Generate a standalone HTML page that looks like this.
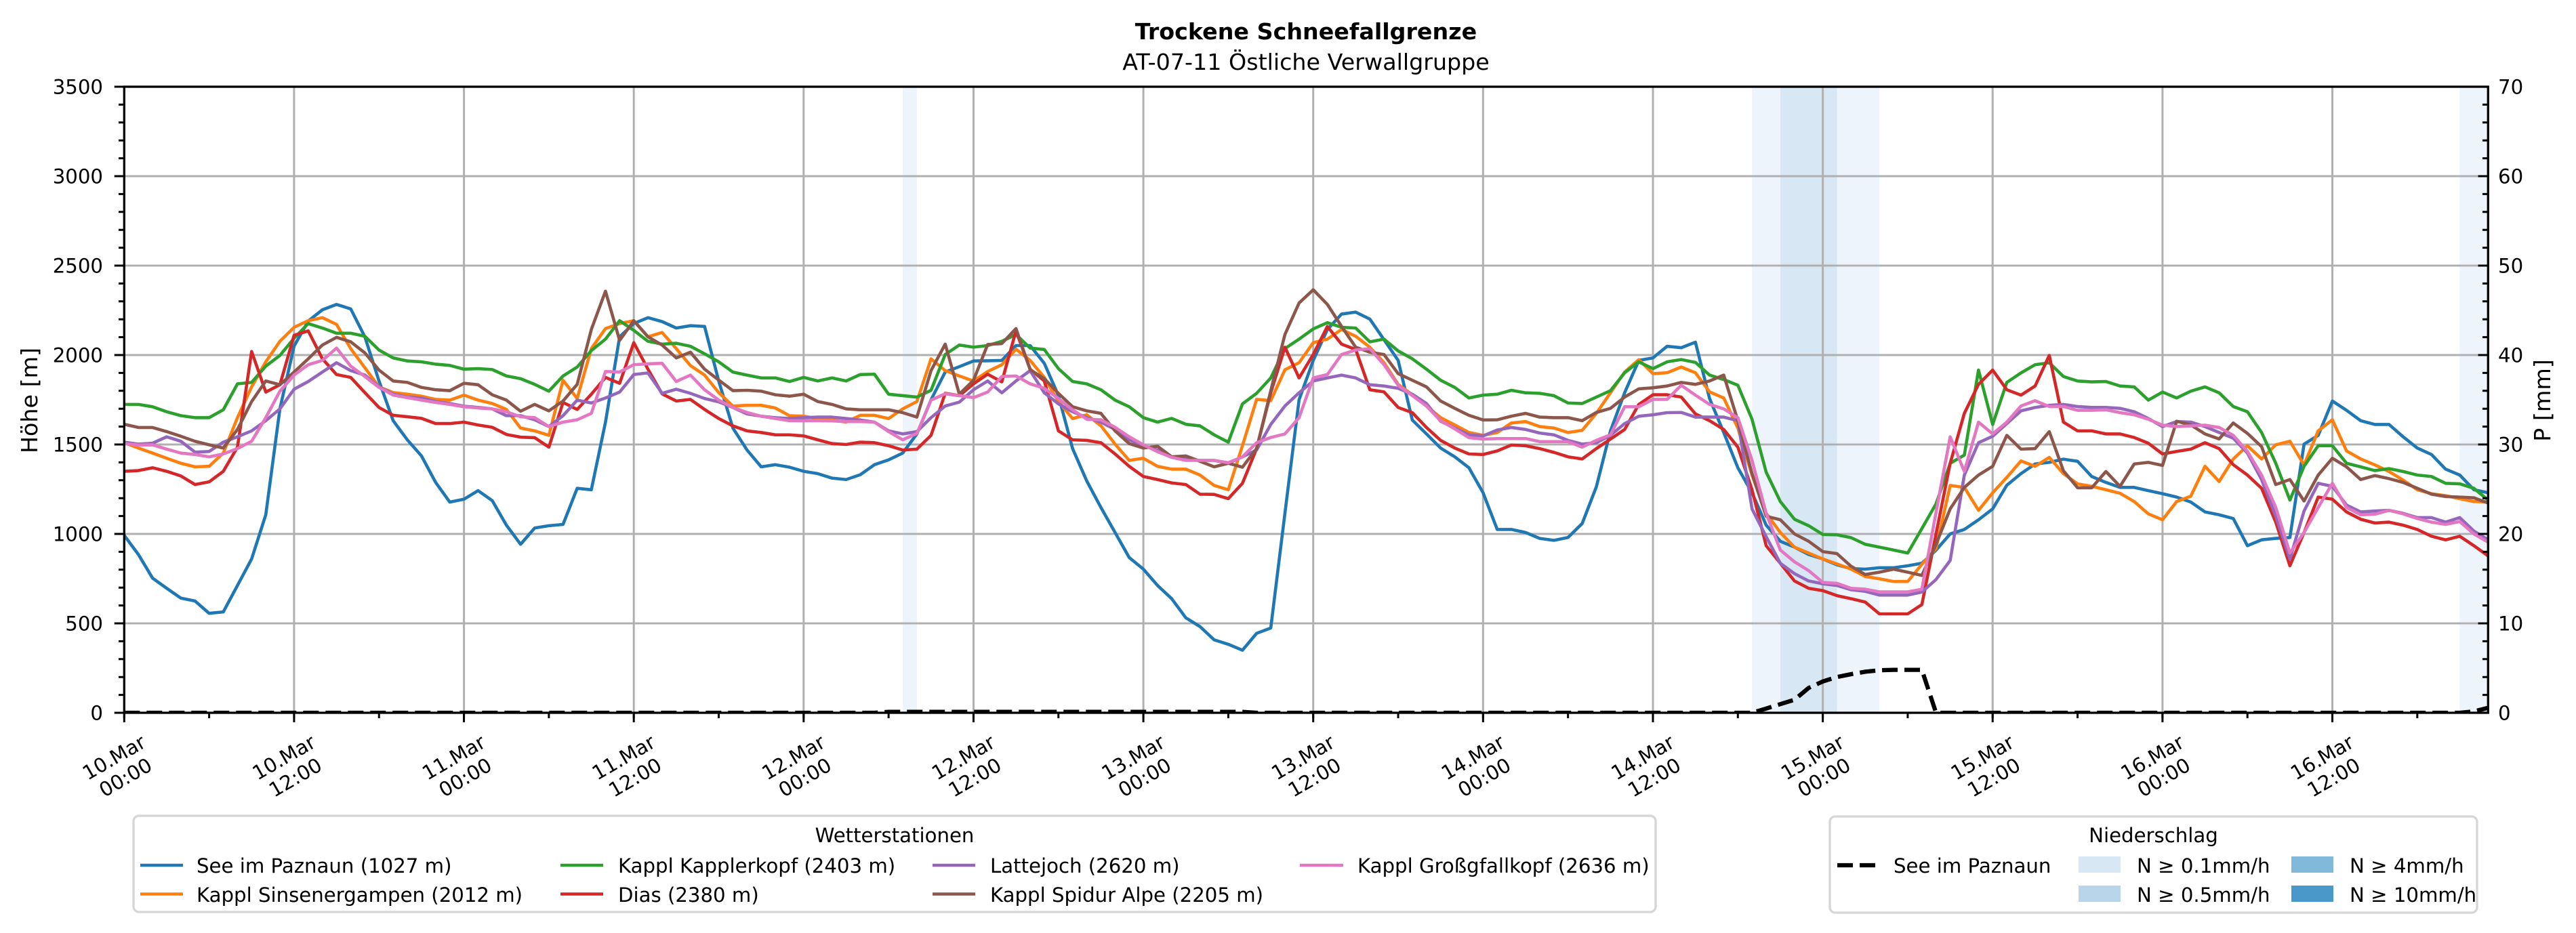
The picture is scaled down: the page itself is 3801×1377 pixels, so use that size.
<!DOCTYPE html>
<html><head><meta charset="utf-8"><style>
html,body{margin:0;padding:0;background:#fff;}
svg{display:block;}
text{font-family:"DejaVu Sans","Liberation Sans",sans-serif;fill:#000;}
</style></head><body>
<svg width="3801" height="1377" viewBox="0 0 3801 1377" xmlns="http://www.w3.org/2000/svg">
<defs><clipPath id="pc"><rect x="183.3" y="128" width="3488" height="924"/></clipPath></defs>
<rect x="0" y="0" width="3801" height="1377" fill="#fff"/>
<text x="1927" y="58" text-anchor="middle" font-size="33.3" font-weight="bold">Trockene Schneefallgrenze</text>
<text x="1927" y="103" text-anchor="middle" font-size="33.3">AT-07-11 Östliche Verwallgruppe</text>
<rect x="1332" y="128" width="20.9" height="924" fill="#eef4fb"/>
<rect x="2585.2" y="128" width="188" height="924" fill="#eef4fb"/>
<rect x="2627" y="128" width="83.5" height="924" fill="#d8e7f4"/>
<rect x="3629.5" y="128" width="41.8" height="924" fill="#eef4fb"/>
<g stroke="#b0b0b0" stroke-width="3" fill="none">
<path d="M183.3,920H3671.3M183.3,788H3671.3M183.3,656H3671.3M183.3,524H3671.3M183.3,392H3671.3M183.3,260H3671.3"/>
<path d="M433.9,128V1052M684.6,128V1052M935.2,128V1052M1185.8,128V1052M1436.5,128V1052M1687.1,128V1052M1937.7,128V1052M2188.3,128V1052M2439,128V1052M2689.6,128V1052M2940.2,128V1052M3190.9,128V1052M3441.5,128V1052"/>
</g>
<g clip-path="url(#pc)">
<g transform="translate(183.3,1052) scale(20.886,-0.264)" fill="none" stroke-width="4.6" stroke-linejoin="round" stroke-linecap="round">
<polyline vector-effect="non-scaling-stroke" stroke="#1f77b4" points="0,992 1,885 2,753 3,696 4,641 5,625 6,556 7,564 8,712 9,860 10,1107 11,1700 12,2050 13,2190 14,2253 15,2283 16,2258 17,2102 18,1855 19,1633 20,1526 21,1436 22,1288 23,1178 24,1194 25,1242 26,1186 27,1049 28,942 29,1033 30,1046 31,1053 32,1255 33,1247 34,1625 35,2102 36,2176 37,2209 38,2187 39,2151 40,2164 41,2160 42,1855 43,1592 44,1469 45,1375 46,1387 47,1373 48,1350 49,1337 50,1312 51,1304 52,1331 53,1387 54,1414 55,1452 56,1559 57,1750 58,1905 59,1935 60,1967 61,1968 62,1970 63,2053 64,2053 65,1954 66,1773 67,1477 68,1296 69,1148 70,1008 71,868 72,803 73,712 74,638 75,531 76,482 77,408 78,383 79,350 80,444 81,474 82,1115 83,1750 84,1970 85,2143 86,2229 87,2240 88,2201 89,2086 90,1970 91,1637 92,1559 93,1480 94,1431 95,1370 96,1230 97,1025 98,1025 99,1008 100,975 101,964 102,980 103,1058 104,1263 105,1576 106,1789 107,1970 108,1984 109,2049 110,2041 111,2072 112,1757 113,1567 114,1370 115,1230 116,1049 117,959 118,926 119,885 120,860 121,827 122,806 123,803 124,811 125,811 126,822 127,836 128,909 129,1000 130,1025 131,1079 132,1140 133,1272 134,1337 135,1391 136,1400 137,1418 138,1406 139,1321 140,1288 141,1260 142,1260 143,1242 144,1225 145,1206 146,1178 147,1123 148,1107 149,1086 150,934 151,967 152,975 153,980 154,1502 155,1551 156,1743 157,1691 158,1633 159,1612 160,1612 161,1543 162,1480 163,1444 164,1362 165,1329 166,1247 167,1230"/>
<polyline vector-effect="non-scaling-stroke" stroke="#ff7f0e" points="0,1510 1,1480 2,1452 3,1423 4,1395 5,1375 6,1378 7,1452 8,1650 9,1822 10,1962 11,2077 12,2155 13,2192 14,2209 15,2171 16,2036 17,1929 18,1822 19,1790 20,1781 21,1770 22,1752 23,1748 24,1776 25,1748 26,1729 27,1696 28,1592 29,1576 30,1551 31,1859 32,1757 33,2036 34,2148 35,2176 36,2192 37,2102 38,2126 39,2036 40,1941 41,1888 42,1790 43,1715 44,1719 45,1719 46,1704 47,1661 48,1658 49,1645 50,1637 51,1625 52,1663 53,1663 54,1645 55,1699 56,1740 57,1979 58,1913 59,1883 60,1855 61,1908 62,1946 63,2033 64,1970 65,1875 66,1740 67,1645 68,1666 69,1605 70,1502 71,1411 72,1423 73,1378 74,1362 75,1362 76,1329 77,1271 78,1247 79,1493 80,1752 81,1745 82,1918 83,1957 84,2069 85,2089 86,2143 87,2105 88,2044 89,1957 90,1836 91,1778 92,1715 93,1650 94,1609 95,1567 96,1551 97,1567 98,1620 99,1628 100,1600 101,1592 102,1567 103,1579 104,1674 105,1789 106,1905 107,1974 108,1896 109,1901 110,1933 111,1901 112,1794 113,1760 114,1592 115,1329 116,1115 117,1008 118,926 119,893 120,860 121,832 122,803 123,762 124,749 125,734 126,734 127,830 128,918 129,1271 130,1260 131,1132 132,1230 133,1316 134,1408 135,1378 136,1428 137,1337 138,1280 139,1266 140,1247 141,1227 142,1181 143,1112 144,1079 145,1181 146,1211 147,1378 148,1293 149,1419 150,1493 151,1419 152,1498 153,1518 154,1386 155,1576 156,1638 157,1464 158,1419 159,1386 160,1349 161,1301 162,1247 163,1225 164,1214 165,1197 166,1181 167,1178"/>
<polyline vector-effect="non-scaling-stroke" stroke="#2ca02c" points="0,1724 1,1724 2,1711 3,1683 4,1661 5,1650 6,1650 7,1694 8,1839 9,1847 10,1938 11,1998 12,2094 13,2176 14,2151 15,2122 16,2122 17,2105 18,2028 19,1984 20,1967 21,1962 22,1949 23,1942 24,1921 25,1924 26,1919 27,1883 28,1868 29,1836 30,1798 31,1883 32,1933 33,2025 34,2089 35,2192 36,2138 37,2077 38,2061 39,2066 40,2049 41,2007 42,1962 43,1905 44,1888 45,1872 46,1872 47,1852 48,1875 49,1855 50,1872 51,1855 52,1891 53,1893 54,1781 55,1773 56,1765 57,1803 58,2003 59,2056 60,2044 61,2053 62,2077 63,2115 64,2039 65,2031 66,1924 67,1852 68,1839 69,1806 70,1748 71,1711 72,1650 73,1625 74,1646 75,1613 76,1604 77,1554 78,1513 79,1727 80,1786 81,1872 82,2036 83,2089 84,2146 85,2181 86,2155 87,2151 88,2074 89,2089 90,2023 91,1979 92,1921 93,1859 94,1819 95,1760 96,1776 97,1781 98,1803 99,1789 100,1786 101,1773 102,1732 103,1729 104,1765 105,1801 106,1901 107,1962 108,1924 109,1962 110,1975 111,1959 112,1888 113,1863 114,1831 115,1641 116,1345 117,1181 118,1082 119,1046 120,997 121,995 122,979 123,942 124,926 125,910 126,893 127,1030 128,1168 129,1395 130,1441 131,1916 132,1612 133,1847 134,1900 135,1946 136,1957 137,1880 138,1855 139,1850 140,1852 141,1827 142,1822 143,1748 144,1793 145,1760 146,1798 147,1822 148,1789 149,1712 150,1683 151,1567 152,1395 153,1189 154,1378 155,1493 156,1493 157,1395 158,1375 159,1354 160,1365 161,1349 162,1329 163,1321 164,1283 165,1280 166,1255 167,1189"/>
<polyline vector-effect="non-scaling-stroke" stroke="#d62728" points="0,1350 1,1354 2,1370 3,1350 4,1324 5,1276 6,1291 7,1350 8,1485 9,2020 10,1793 11,1834 12,2110 13,2135 14,1979 15,1891 16,1875 17,1790 18,1707 19,1663 20,1655 21,1646 22,1617 23,1617 24,1625 25,1609 26,1596 27,1556 28,1541 29,1538 30,1485 31,1735 32,1696 33,1781 34,1875 35,1842 36,2069 37,1921 38,1783 39,1743 40,1752 41,1696 42,1645 43,1604 44,1576 45,1567 46,1554 47,1554 48,1548 49,1526 50,1505 51,1500 52,1513 53,1510 54,1493 55,1469 56,1474 57,1551 58,1786 59,1773 60,1839 61,1893 62,1850 63,2135 64,1921 65,1855 66,1576 67,1526 68,1523 69,1510 70,1447 71,1378 72,1321 73,1304 74,1285 75,1276 76,1222 77,1221 78,1197 79,1283 80,1477 81,1790 82,2044 83,1872 84,2003 85,2160 86,2061 87,2031 88,1806 89,1794 90,1707 91,1678 92,1595 93,1523 94,1480 95,1447 96,1444 97,1464 98,1497 99,1493 100,1477 101,1456 102,1431 103,1419 104,1477 105,1530 106,1584 107,1724 108,1778 109,1778 110,1765 111,1671 112,1633 113,1584 114,1485 115,1247 116,934 117,836 118,737 119,696 120,683 121,655 122,638 123,619 124,553 125,553 126,553 127,605 128,1000 129,1395 130,1674 131,1836 132,1916 133,1806 134,1776 135,1827 136,1998 137,1625 138,1576 139,1576 140,1559 141,1559 142,1539 143,1507 144,1447 145,1461 146,1474 147,1510 148,1477 149,1387 150,1329 151,1255 152,1066 153,822 154,1008 155,1206 156,1194 157,1123 158,1082 159,1061 160,1066 161,1049 162,1025 163,987 164,967 165,987 166,934 167,877"/>
<polyline vector-effect="non-scaling-stroke" stroke="#9467bd" points="0,1513 1,1502 2,1507 3,1543 4,1518 5,1457 6,1461 7,1513 8,1543 9,1576 10,1633 11,1699 12,1809 13,1852 14,1905 15,1957 16,1913 17,1888 18,1822 19,1781 20,1765 21,1760 22,1740 23,1729 24,1714 25,1707 26,1699 27,1661 28,1661 29,1638 30,1600 31,1661 32,1748 33,1732 34,1760 35,1793 36,1891 37,1900 38,1786 39,1809 40,1786 41,1757 42,1738 43,1707 44,1671 45,1658 46,1650 47,1645 48,1650 49,1653 50,1653 51,1645 52,1637 53,1625 54,1576 55,1559 56,1572 57,1650 58,1715 59,1737 60,1806 61,1855 62,1789 63,1855 64,1913 65,1789 66,1727 67,1683 68,1650 69,1625 70,1584 71,1526 72,1493 73,1469 74,1431 75,1418 76,1411 77,1411 78,1395 79,1431 80,1469 81,1612 82,1715 83,1789 84,1855 85,1872 86,1888 87,1872 88,1834 89,1827 90,1814 91,1781 92,1729 93,1630 94,1592 95,1554 96,1548 97,1581 98,1595 99,1584 100,1564 101,1554 102,1523 103,1502 104,1510 105,1551 106,1617 107,1658 108,1666 109,1678 110,1679 111,1653 112,1653 113,1653 114,1633 115,1140 116,984 117,836 118,778 119,737 120,721 121,712 122,688 123,679 124,658 125,658 126,658 127,675 128,745 129,852 130,1329 131,1510 132,1546 133,1617 134,1688 135,1707 136,1719 137,1724 138,1712 139,1707 140,1707 141,1702 142,1683 143,1645 144,1600 145,1628 146,1625 147,1600 148,1567 149,1535 150,1452 151,1304 152,1099 153,860 154,1128 155,1283 156,1266 157,1161 158,1123 159,1128 160,1132 161,1115 162,1091 163,1091 164,1066 165,1091 166,1016 167,967"/>
<polyline vector-effect="non-scaling-stroke" stroke="#8c564b" points="0,1613 1,1595 2,1595 3,1572 4,1546 5,1518 6,1498 7,1480 8,1584 9,1740 10,1855 11,1834 12,1905 13,1979 14,2056 15,2099 16,2074 17,2012 18,1916 19,1855 20,1847 21,1819 22,1806 23,1801 24,1842 25,1834 26,1778 27,1748 28,1686 29,1724 30,1688 31,1743 32,1836 33,2143 34,2357 35,2082 36,2192 37,2102 38,2056 39,1984 40,2016 41,1921 42,1860 43,1801 44,1803 45,1798 46,1778 47,1770 48,1781 49,1740 50,1724 51,1699 52,1694 53,1694 54,1694 55,1678 56,1653 57,1913 58,2061 59,1781 60,1859 61,2059 62,2064 63,2148 64,1918 65,1868 66,1786 67,1711 68,1688 69,1674 70,1576 71,1505 72,1480 73,1490 74,1431 75,1436 76,1406 77,1375 78,1395 79,1373 80,1477 81,1800 82,2115 83,2291 84,2365 85,2283 86,2160 87,2044 88,2016 89,2003 90,1896 91,1859 92,1822 93,1743 94,1702 95,1663 96,1637 97,1638 98,1658 99,1674 100,1653 101,1650 102,1650 103,1633 104,1679 105,1702 106,1765 107,1811 108,1817 109,1827 110,1847 111,1836 112,1855 113,1888 114,1633 115,1337 116,1099 117,1079 118,1000 119,959 120,901 121,890 122,819 123,773 124,786 125,803 126,786 127,768 128,942 129,1140 130,1260 131,1329 132,1378 133,1551 134,1474 135,1477 136,1572 137,1353 138,1258 139,1258 140,1349 141,1266 142,1391 143,1400 144,1383 145,1630 146,1609 147,1559 148,1531 149,1620 150,1562 151,1488 152,1276 153,1304 154,1184 155,1329 156,1423 157,1375 158,1304 159,1326 160,1309 161,1288 162,1255 163,1222 164,1209 165,1206 166,1202 167,1173"/>
<polyline vector-effect="non-scaling-stroke" stroke="#e377c2" points="0,1505 1,1497 2,1498 3,1474 4,1452 5,1444 6,1431 7,1447 8,1477 9,1518 10,1650 11,1798 12,1888 13,1946 14,1970 15,2039 16,1938 17,1880 18,1819 19,1776 20,1762 21,1748 22,1735 23,1724 24,1711 25,1704 26,1699 27,1683 28,1655 29,1650 30,1600 31,1625 32,1638 33,1674 34,1908 35,1905 36,1946 37,1951 38,1954 39,1852 40,1888 41,1806 42,1748 43,1707 44,1679 45,1658 46,1645 47,1633 48,1633 49,1633 50,1632 51,1628 52,1628 53,1625 54,1572 55,1526 56,1562 57,1748 58,1783 59,1773 60,1762 61,1793 62,1880 63,1883 64,1839 65,1814 66,1757 67,1694 68,1641 69,1638 70,1596 71,1543 72,1498 73,1460 74,1428 75,1411 76,1411 77,1411 78,1398 79,1431 80,1510 81,1539 82,1559 83,1650 84,1872 85,1891 86,2003 87,2028 88,2036 89,1946 90,1831 91,1773 92,1715 93,1633 94,1587 95,1538 96,1530 97,1533 98,1533 99,1533 100,1516 101,1516 102,1516 103,1485 104,1523 105,1554 106,1711 107,1711 108,1752 109,1752 110,1831 111,1776 112,1724 113,1699 114,1650 115,1411 116,1115 117,910 118,844 119,795 120,729 121,724 122,696 123,691 124,676 125,676 126,676 127,691 128,1120 129,1543 130,1349 131,1625 132,1559 133,1625 134,1715 135,1745 136,1712 137,1712 138,1691 139,1691 140,1694 141,1678 142,1666 143,1641 144,1608 145,1600 146,1604 147,1608 148,1595 149,1551 150,1461 151,1329 152,1148 153,893 154,1008 155,1148 156,1283 157,1148 158,1107 159,1110 160,1132 161,1112 162,1086 163,1066 164,1053 165,1069 166,1000 167,954"/>
</g>
<polyline fill="none" stroke="#000" stroke-width="6.25" stroke-dasharray="23 10" points="183.3,1052 1290.3,1052 1311.1,1050.6 1833.3,1050.6 1854.2,1052 2585.2,1052 2606.1,1045.7 2627,1039.2 2647.9,1032.7 2668.7,1015.3 2689.6,1005.8 2710.5,999.2 2731.4,995 2752.3,991.4 2773.2,989.3 2794.1,988.6 2815,988.6 2835.8,988.6 2856.7,1052 3629.5,1052 3650.4,1050 3671.3,1044.7"/>
</g>
<rect x="183.3" y="128" width="3488" height="924" fill="none" stroke="#000" stroke-width="3.3"/>
<g stroke="#000" fill="none">
<line x1="176" y1="1053.5" x2="176" y2="126" stroke-width="14.5" stroke-dasharray="3 129"/>
<line x1="179" y1="1053.5" x2="179" y2="126" stroke-width="8" stroke-dasharray="3 23.4"/>
<line x1="3663.8" y1="1053.5" x2="3663.8" y2="126" stroke-width="14.5" stroke-dasharray="3 129"/>
<line x1="3667" y1="1053.5" x2="3667" y2="126" stroke-width="8" stroke-dasharray="3 23.4"/>
<line x1="181.8" y1="1059" x2="3672" y2="1059" stroke-width="14" stroke-dasharray="3 247.63"/>
<line x1="181.8" y1="1056" x2="3672" y2="1056" stroke-width="8" stroke-dasharray="3 122.315"/>
</g>
<g font-size="29.2" text-anchor="end">
<text x="152" y="1062.6">0</text><text x="152" y="930.6">500</text><text x="152" y="798.6">1000</text><text x="152" y="666.6">1500</text><text x="152" y="534.6">2000</text><text x="152" y="402.6">2500</text><text x="152" y="270.6">3000</text><text x="152" y="138.6">3500</text>
</g>
<g font-size="29.2">
<text x="3686" y="1062.6">0</text><text x="3686" y="930.6">10</text><text x="3686" y="798.6">20</text><text x="3686" y="666.6">30</text><text x="3686" y="534.6">40</text><text x="3686" y="402.6">50</text><text x="3686" y="270.6">60</text><text x="3686" y="138.6">70</text>
</g>
<text transform="translate(55,591) rotate(-90)" text-anchor="middle" font-size="33.3">Höhe [m]</text>
<text transform="translate(3763,591) rotate(-90)" text-anchor="middle" font-size="33.3">P [mm]</text>
<g font-size="29.2" text-anchor="middle">
<g transform="translate(176.3,1132) rotate(-30)"><text y="-6">10.Mar</text><text y="28">00:00</text></g>
<g transform="translate(426.9,1132) rotate(-30)"><text y="-6">10.Mar</text><text y="28">12:00</text></g>
<g transform="translate(677.6,1132) rotate(-30)"><text y="-6">11.Mar</text><text y="28">00:00</text></g>
<g transform="translate(928.2,1132) rotate(-30)"><text y="-6">11.Mar</text><text y="28">12:00</text></g>
<g transform="translate(1178.8,1132) rotate(-30)"><text y="-6">12.Mar</text><text y="28">00:00</text></g>
<g transform="translate(1429.5,1132) rotate(-30)"><text y="-6">12.Mar</text><text y="28">12:00</text></g>
<g transform="translate(1680.1,1132) rotate(-30)"><text y="-6">13.Mar</text><text y="28">00:00</text></g>
<g transform="translate(1930.7,1132) rotate(-30)"><text y="-6">13.Mar</text><text y="28">12:00</text></g>
<g transform="translate(2181.3,1132) rotate(-30)"><text y="-6">14.Mar</text><text y="28">00:00</text></g>
<g transform="translate(2432,1132) rotate(-30)"><text y="-6">14.Mar</text><text y="28">12:00</text></g>
<g transform="translate(2682.6,1132) rotate(-30)"><text y="-6">15.Mar</text><text y="28">00:00</text></g>
<g transform="translate(2933.2,1132) rotate(-30)"><text y="-6">15.Mar</text><text y="28">12:00</text></g>
<g transform="translate(3183.9,1132) rotate(-30)"><text y="-6">16.Mar</text><text y="28">00:00</text></g>
<g transform="translate(3434.5,1132) rotate(-30)"><text y="-6">16.Mar</text><text y="28">12:00</text></g>
</g>
<rect x="197" y="1204" width="2246" height="142" rx="8" ry="8" fill="#fff" stroke="#d6d6d6" stroke-width="3.3"/>
<text x="1320" y="1243" text-anchor="middle" font-size="29.2">Wetterstationen</text>
<g stroke-width="4.6">
<line x1="207" y1="1277" x2="270" y2="1277" stroke="#1f77b4"/>
<line x1="207" y1="1319.5" x2="270" y2="1319.5" stroke="#ff7f0e"/>
<line x1="827" y1="1277" x2="890" y2="1277" stroke="#2ca02c"/>
<line x1="827" y1="1319.5" x2="890" y2="1319.5" stroke="#d62728"/>
<line x1="1376" y1="1277" x2="1439" y2="1277" stroke="#9467bd"/>
<line x1="1376" y1="1319.5" x2="1439" y2="1319.5" stroke="#8c564b"/>
<line x1="1918" y1="1277" x2="1982" y2="1277" stroke="#e377c2"/>
</g>
<g font-size="29.2">
<text x="290" y="1288">See im Paznaun (1027 m)</text>
<text x="290" y="1331">Kappl Sinsenergampen (2012 m)</text>
<text x="912" y="1288">Kappl Kapplerkopf (2403 m)</text>
<text x="912" y="1331">Dias (2380 m)</text>
<text x="1461" y="1288">Lattejoch (2620 m)</text>
<text x="1461" y="1331">Kappl Spidur Alpe (2205 m)</text>
<text x="2003" y="1288">Kappl Großgfallkopf (2636 m)</text>
</g>
<rect x="2700" y="1205" width="955" height="142" rx="8" ry="8" fill="#fff" stroke="#d6d6d6" stroke-width="3.3"/>
<text x="3177.5" y="1243" text-anchor="middle" font-size="29.2">Niederschlag</text>
<line x1="2711" y1="1277" x2="2768" y2="1277" stroke="#000" stroke-width="6.25" stroke-dasharray="23 10"/>
<rect x="3067" y="1264" width="62" height="24" fill="#d7e7f4"/>
<rect x="3067" y="1307" width="62" height="24" fill="#b9d5ea"/>
<rect x="3381" y="1264" width="62" height="24" fill="#80b9da"/>
<rect x="3381" y="1307" width="62" height="24" fill="#4a97c9"/>
<g font-size="29.2">
<text x="2794" y="1288">See im Paznaun</text>
<text x="3153" y="1288">N ≥ 0.1mm/h</text>
<text x="3153" y="1331">N ≥ 0.5mm/h</text>
<text x="3467" y="1288">N ≥ 4mm/h</text>
<text x="3467" y="1331">N ≥ 10mm/h</text>
</g>
</svg>
</body></html>
